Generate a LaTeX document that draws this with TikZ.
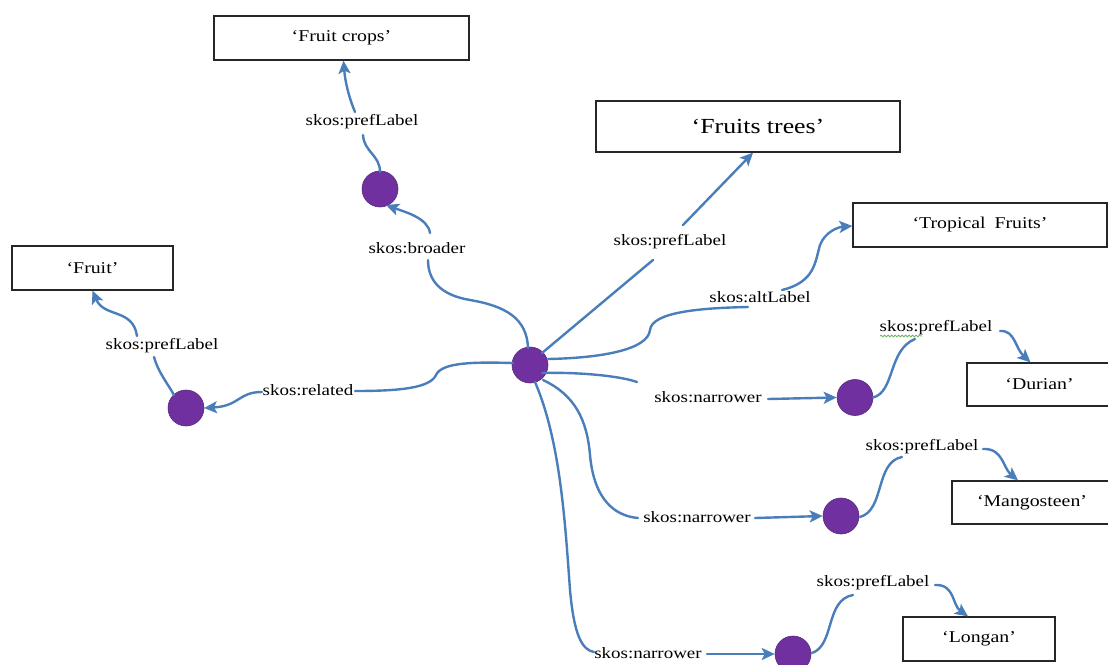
\documentclass[tikz,border=0pt]{standalone}
\usepackage{fontspec}
\setmainfont{Liberation Serif}[FakeStretch=1.2]
\usetikzlibrary{arrows.meta,decorations.pathmorphing}
\definecolor{linkblue}{RGB}{74,126,187}
\definecolor{purp}{RGB}{112,48,160}
\definecolor{purpedge}{RGB}{84,44,124}
\definecolor{squig}{RGB}{110,180,90}
\tikzset{
  conn/.style={draw=linkblue, line width=2.4pt, line cap=round},
  arr/.style={conn, -{Stealth[length=13pt,width=12pt,inset=3pt]}},
  dot/.style={circle, fill=purp, draw=purpedge, line width=0.6pt, minimum size=36pt, inner sep=0pt},
  box/.style={draw=black!85, line width=1.3pt, fill=white, inner sep=0pt, font=\fontsize{16.5}{19}\selectfont},
  lbl/.style={inner sep=1pt, font=\fontsize{15.8}{18}\selectfont, text=black}
}
\begin{document}
\begin{tikzpicture}[x=1pt,y=-1pt]
\useasboundingbox (0,0) rectangle (1108,664);
\clip (0,0) rectangle (1108,664);
\fill[white] (0,0) rectangle (1108,664);

% boxes
\node[box, minimum width=255pt, minimum height=44pt] (bCrops) at (341.5,38) {‘Fruit crops’};
\node[box, minimum width=304pt, minimum height=51pt, font=\fontsize{21.5}{24}\selectfont] (bTrees) at (748,126.5) {\hspace*{20pt}‘Fruits trees’};
\node[box, minimum width=254pt, minimum height=44pt] (bTrop) at (980,225) {‘Tropical\hspace{4pt} Fruits’};
\node[box, minimum width=161pt, minimum height=44pt] (bFruit) at (92.5,268) {‘Fruit’};
\node[box, minimum width=145pt, minimum height=43pt] (bDurian) at (1039.5,384.5) {‘Durian’};
\node[box, minimum width=160pt, minimum height=43pt] (bMango) at (1032,502.5) {‘Mangosteen’};
\node[box, minimum width=152pt, minimum height=44pt] (bLongan) at (979,639) {‘Longan’};

% dots
\node[dot] (hub) at (530,365) {};
\node[dot] (nB) at (380,189) {};
\node[dot] (nR) at (186,408) {};
\node[dot] (nN1) at (855,397.5) {};
\node[dot] (nN2) at (841,516) {};
\node[dot] (nN3) at (793,654) {};

% labels
\node[lbl] (lCrops) at (362,122) {skos:prefLabel};
\node[lbl] (lBroader) at (417,248) {skos:broader};
\node[lbl] (lFruit) at (162,346) {skos:prefLabel};
\node[lbl] (lRelated) at (308,390) {skos:related};
\node[lbl] (lTrees) at (670,242) {skos:prefLabel};
\node[lbl] (lAlt) at (760,297) {skos:altLabel};
\node[lbl] (lN1) at (708,397) {skos:narrower};
\node[lbl] (lDur) at (936,328) {skos:prefLabel};
\node[lbl] (lMango) at (922,447) {skos:prefLabel};
\node[lbl] (lN2) at (697,517) {skos:narrower};
\node[lbl] (lLongan) at (873,583) {skos:prefLabel};
\node[lbl] (lN3) at (648,653) {skos:narrower};

% spell-check squiggle
\draw[squig, line width=0.8pt, decorate, decoration={snake, amplitude=0.9pt, segment length=3.5pt}]
  ([shift={(-56,8)}]lDur.center) -- ([shift={(-14,8)}]lDur.center);

% broader branch
\draw[conn] ([shift={(-2,-17)}]hub.center) .. controls (527,318) and (505,306) .. (470,300)
  .. controls (440,295) and (428,280) .. ([shift={(11,12)}]lBroader.center);
\draw[arr] ([shift={(13,-15)}]lBroader.center) .. controls (428,218) and (405,212) .. ([shift={(6,16)}]nB.center);
\draw[conn] ([shift={(0,-17)}]nB.center) .. controls (380,155) and (364,152) .. ([shift={(1,13)}]lCrops.center);
\draw[arr] ([shift={(-7,-10)}]lCrops.center) .. controls (348,95) and (345,80) .. ([xshift=2pt]bCrops.south);

% related branch
\draw[conn] ([shift={(-17,-2)}]hub.center) .. controls (475,362) and (442,362) .. (436,375)
  .. controls (430,388) and (400,391) .. ([shift={(47,1)}]lRelated.center);
\draw[arr] ([shift={(-46,2)}]lRelated.center) .. controls (238,392) and (240,406) .. ([shift={(18,0)}]nR.center);
\draw[conn] ([shift={(-12,-13)}]nR.center) .. controls (168,384) and (158,372) .. ([shift={(-8,11)}]lFruit.center);
\draw[arr] ([shift={(-25,-10)}]lFruit.center) .. controls (133,308) and (104,318) .. (bFruit.south);

% fruits trees
\draw[conn] ([shift={(12,-12)}]hub.center) -- ([shift={(-17,18)}]lTrees.center);
\draw[arr] ([shift={(13,-17)}]lTrees.center) -- ([xshift=5pt]bTrees.south);

% alt label
\draw[conn] ([shift={(18,-6)}]hub.center) .. controls (600,358) and (648,350) .. (650,330)
  .. controls (652,312) and (700,308) .. ([shift={(-12,10)}]lAlt.center);
\draw[arr] ([shift={(22,-7)}]lAlt.center) .. controls (815,282) and (815,262) .. (820,245)
  .. controls (825,232) and (838,227) .. ([yshift=-1pt]bTrop.west);

% narrower 1
\draw[conn] ([shift={(12,8)}]hub.center) .. controls (580,372) and (620,376) .. ([shift={(-71,-15)}]lN1.center);
\draw[arr] ([shift={(60,2)}]lN1.center) -- (nN1.west);
\draw[conn] ([shift={(18,0)}]nN1.center) .. controls (895,392) and (888,350) .. ([shift={(-21,11)}]lDur.center);
\draw[arr] ([shift={(64,3)}]lDur.center) .. controls (1015,330) and (1015,348) .. ([xshift=-9pt]bDurian.north);

% narrower 2
\draw[conn] ([shift={(13,15)}]hub.center) .. controls (575,395) and (587,420) .. (590,455)
  .. controls (594,500) and (615,516) .. ([shift={(-59,1)}]lN2.center);
\draw[arr] ([shift={(58,1)}]lN2.center) -- (nN2.west);
\draw[conn] ([shift={(19,1)}]nN2.center) .. controls (885,510) and (875,462) .. ([shift={(-20,10)}]lMango.center);
\draw[arr] ([shift={(61,2)}]lMango.center) .. controls (1003,448) and (1003,468) .. ([xshift=-14pt]bMango.north);

% narrower 3
\draw[conn] ([shift={(5,17)}]hub.center) .. controls (560,440) and (565,520) .. (570,590)
  .. controls (574,635) and (582,650) .. ([shift={(-54,-1)}]lN3.center);
\draw[arr] ([shift={(59,1)}]lN3.center) -- (nN3.west);
\draw[conn] ([shift={(19,-1)}]nN3.center) .. controls (835,645) and (825,600) .. ([shift={(-20,12)}]lLongan.center);
\draw[arr] ([shift={(62,2)}]lLongan.center) .. controls (955,584) and (952,605) .. ([xshift=-11pt]bLongan.north);
\end{tikzpicture}
\end{document}
